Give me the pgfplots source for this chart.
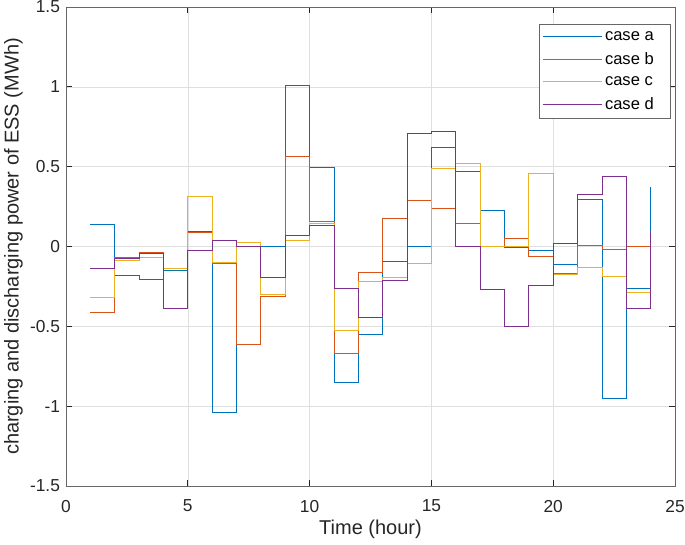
\documentclass[border=0pt]{standalone}
\usepackage{pgfplots}
\pgfplotsset{compat=1.18}
\usepackage{fontspec}
\setmainfont{Liberation Sans}
\definecolor{ca}{rgb}{0,0.447,0.741}
\definecolor{cb}{rgb}{0.85,0.325,0.098}
\definecolor{cc}{rgb}{0.929,0.694,0.125}
\definecolor{cd}{rgb}{0.494,0.184,0.556}
\definecolor{axc}{rgb}{0.15,0.15,0.15}
\begin{document}
\begin{tikzpicture}
\begin{axis}[
  scale only axis,
  width=456.75pt, height=359.25pt,
  xmin=0, xmax=25, ymin=-1.5, ymax=1.5,
  xtick={0,5,10,15,20,25},
  ytick={-1.5,-1,-0.5,0,0.5,1,1.5},
  yticklabels={-1.5,-1,-0.5,0,0.5,1,1.5},
  /pgf/number format/assume math mode=true,
  tick label style={font=\fontsize{13}{15}\selectfont, text=axc},
  xticklabel style={yshift=-7pt},
  yticklabel style={xshift=-1pt},
  every axis x label/.style={at={(rel axis cs:0.5,0)}, anchor=center, yshift=-32.5pt, font=\fontsize{15}{17}\selectfont, text=axc},
  every axis y label/.style={at={(rel axis cs:0,0.5)}, xshift=-39.5pt, rotate=90, anchor=center, font=\fontsize{15}{17}\selectfont, text=axc},
  xlabel={Time (hour)},
  ylabel={charging and discharging power of ESS (MWh)},
  grid=major,
  major grid style={draw=gray!25, line width=0.4pt},
  axis line style={draw=axc!70, line width=0.5pt},
  major tick style={draw=axc, line width=0.5pt},
  major tick length=4.5pt,
  tick align=inside,
  xtick pos=both, ytick pos=both,
  legend style={at={(0.993,0.964)}, anchor=north east, draw=axc!70, line width=0.5pt,
    font=\fontsize{12.4}{14}\selectfont, row sep=3.6pt, inner sep=2.5pt, inner ysep=3pt},
  legend cell align=left,
  legend image code/.code={\draw[#1] (-0.05cm,0cm) -- (1.5cm,0cm);},
  every axis plot/.append style={const plot, line width=0.6pt, mark=none},
]
\addplot[color=ca] coordinates {(1,0.14)(2,-0.183)(3,-0.206)(4,-0.147)(5,0.092)(6,-1.04)(7,0.0)(8,0.0)(9,1.008)(10,0.494)(11,-0.854)(12,-0.548)(13,-0.093)(14,0.0)(15,0.623)(16,0.471)(17,0.223)(18,-0.005)(19,-0.025)(20,-0.112)(21,0.292)(22,-0.954)(23,-0.264)(24,0.37)};
\addplot[color=cb] coordinates {(1,-0.41)(2,-0.066)(3,-0.04)(4,-0.137)(5,0.087)(6,-0.105)(7,-0.616)(8,-0.31)(9,0.563)(10,0.157)(11,-0.667)(12,-0.162)(13,0.176)(14,0.29)(15,0.236)(16,0.144)(17,0.0)(18,0.052)(19,-0.06)(20,-0.168)(21,0.004)(22,-0.016)(23,0.0)(24,0.0)};
\addplot[color=cc] coordinates {(1,-0.32)(2,-0.09)(3,-0.07)(4,-0.14)(5,0.314)(6,-0.10)(7,0.026)(8,-0.30)(9,0.038)(10,0.144)(11,-0.525)(12,-0.218)(13,-0.193)(14,-0.104)(15,0.488)(16,0.519)(17,0.0)(18,0.0)(19,0.457)(20,-0.173)(21,-0.131)(22,-0.187)(23,-0.285)(24,0.0)};
\addplot[color=cd] coordinates {(1,-0.137)(2,-0.072)(3,-0.041)(4,-0.39)(5,-0.023)(6,0.036)(7,0.0)(8,-0.193)(9,0.071)(10,0.13)(11,-0.26)(12,-0.443)(13,-0.212)(14,0.707)(15,0.721)(16,0.0)(17,-0.268)(18,-0.50)(19,-0.241)(20,0.017)(21,0.325)(22,0.438)(23,-0.387)(24,0.09)};
\legend{case a\hspace*{8pt}, case b\hspace*{8pt}, case c\hspace*{8pt}, case d\hspace*{8pt}}
\end{axis}
\pgfresetboundingbox
\path[use as bounding box] ([xshift=-49.5pt,yshift=-44.25pt]current axis.south west) rectangle ([xshift=7.5pt,yshift=5.25pt]current axis.north east);
\end{tikzpicture}
\end{document}
